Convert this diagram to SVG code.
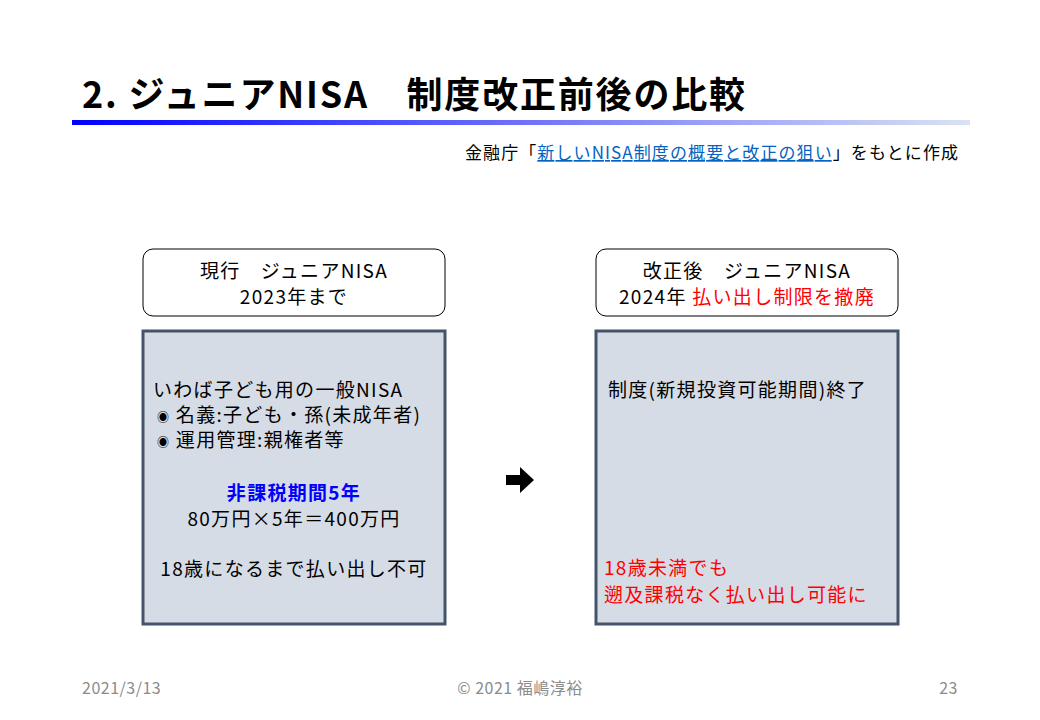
<svg xmlns="http://www.w3.org/2000/svg" width="1040" height="720" viewBox="0 0 1040 720">
<style>
text{font-family:"Noto Sans CJK JP","Noto Sans",sans-serif;fill:#000}
.t{font-size:19px;letter-spacing:1.3px}
.hdr{fill:#fff;stroke:#000;stroke-width:1}
.body{fill:#d6dce5;stroke:#44546a;stroke-width:3}
.red{fill:#ff0000}
.blue{fill:#0000ff}
.link{fill:#0563c1}
.ft{font-size:16px;fill:#8c8c8c;letter-spacing:0.5px}
</style>
<defs>
<linearGradient id="g" x1="0" x2="1"><stop offset="0" stop-color="#0000ff"/><stop offset="1" stop-color="#dae3f3"/></linearGradient>
</defs>
<rect width="1040" height="720" fill="#fff"/>
<text x="82" y="108" font-size="36" font-weight="bold" textLength="663" lengthAdjust="spacing">2.  ジュニアNISA　制度改正前後の比較</text>
<rect x="72" y="120" width="898" height="5" fill="url(#g)"/>
<text x="465" y="159" font-size="17" textLength="493" lengthAdjust="spacing">金融庁「<tspan class="link" text-decoration="underline">新しいNISA制度の概要と改正の狙い</tspan>」をもとに作成</text>
<g id="left-header"><rect class="hdr" x="143" y="249" width="302" height="67" rx="10"/>
<text class="t" x="294" y="278" text-anchor="middle">現行　ジュニアNISA</text>
<text class="t" x="294" y="304" text-anchor="middle">2023年まで</text></g>
<g id="left-body"><rect class="body" x="143" y="331" width="302" height="293"/>
<text class="t" x="153" y="397">いわば子ども用の一般NISA</text>
<text class="t" x="157" y="422"><tspan font-size="12">◉</tspan> 名義:子ども・孫(未成年者)</text>
<text class="t" x="157" y="447"><tspan font-size="12">◉</tspan> 運用管理:親権者等</text>
<text class="t blue" x="294" y="500" text-anchor="middle" font-weight="bold">非課税期間5年</text>
<text class="t" x="294" y="526" text-anchor="middle">80万円×5年＝400万円</text>
<text class="t" x="294" y="576" text-anchor="middle">18歳になるまで払い出し不可</text></g>
<g id="connectors"><path d="M506 475h14v-8l14 13l-14 13v-8h-14z" fill="#000"/></g>
<g id="right-header"><rect class="hdr" x="596" y="249" width="302" height="67" rx="10"/>
<text class="t" x="747" y="278" text-anchor="middle">改正後　ジュニアNISA</text>
<text class="t" x="747" y="304" text-anchor="middle">2024年 <tspan class="red">払い出し制限を撤廃</tspan></text></g>
<g id="right-body"><rect class="body" x="596" y="331" width="302" height="293"/>
<text class="t" x="608" y="397">制度(新規投資可能期間)終了</text>
<text class="t red" x="604" y="575">18歳未満でも</text>
<text class="t red" x="604" y="602">遡及課税なく払い出し可能に</text></g>
<text class="ft" x="82" y="694">2021/3/13</text>
<text class="ft" x="520" y="694" text-anchor="middle">© 2021 福嶋淳裕</text>
<text class="ft" x="958" y="694" text-anchor="end">23</text>
</svg>
